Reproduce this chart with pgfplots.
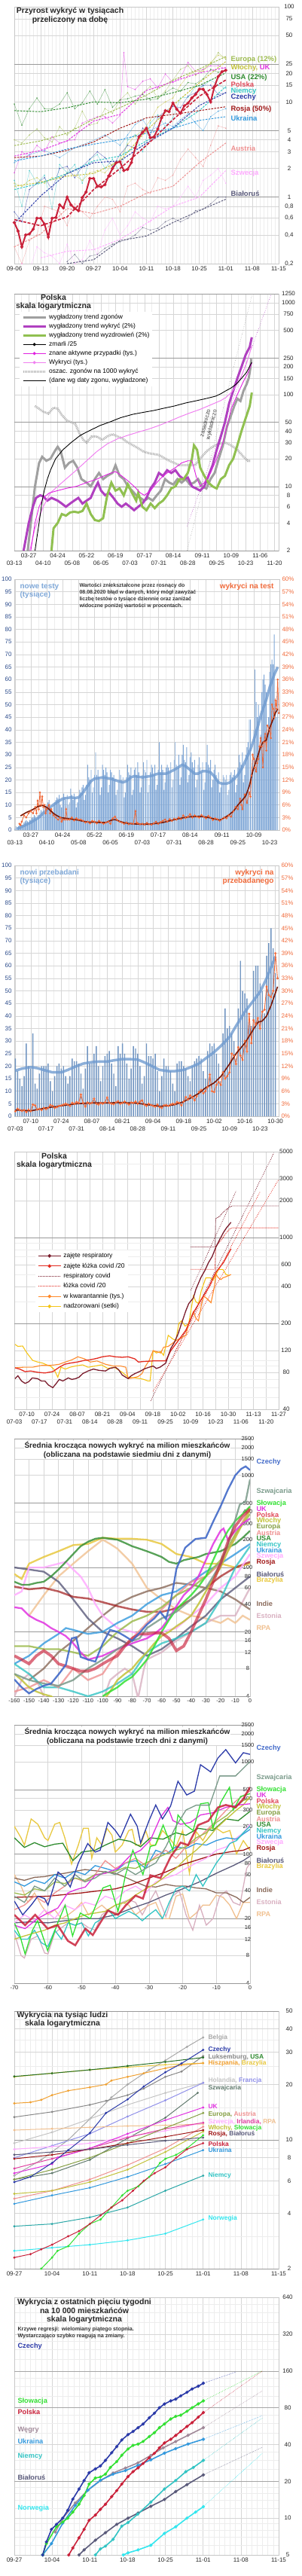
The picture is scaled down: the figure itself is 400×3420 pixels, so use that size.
\documentclass[border=0pt]{standalone}
\usepackage{pgfplots}
\pgfplotsset{compat=1.18}
\usepackage{fontspec}
\setmainfont{Liberation Sans}
\definecolor{cEur}{HTML}{9DBB4F}
\definecolor{cIta}{HTML}{C2C23A}
\definecolor{cUK}{HTML}{E033E0}
\definecolor{cUSA}{HTML}{2E8B2E}
\definecolor{cPol}{HTML}{C9213A}
\definecolor{cPolL}{HTML}{E04A5A}
\definecolor{cGer}{HTML}{33C4C4}
\definecolor{cCze}{HTML}{2B3AA8}
\definecolor{cCze6}{HTML}{4169C8}
\definecolor{cRus}{HTML}{A01818}
\definecolor{cUkr}{HTML}{3399DD}
\definecolor{cAut}{HTML}{EE9090}
\definecolor{cSwe}{HTML}{FFAAFF}
\definecolor{cBlr}{HTML}{5A5A7A}
\definecolor{cSvk}{HTML}{33E033}
\definecolor{cSui}{HTML}{7A9A8A}
\definecolor{cBra}{HTML}{E8C840}
\definecolor{cInd}{HTML}{8A6A5A}
\definecolor{cEst}{HTML}{D8B0C0}
\definecolor{cRSA}{HTML}{F0C090}
\definecolor{cBel}{HTML}{A8A8A8}
\definecolor{cLux}{HTML}{888888}
\definecolor{cEsp}{HTML}{F0A030}
\definecolor{cNed}{HTML}{C4C4C4}
\definecolor{cFra}{HTML}{9090E8}
\definecolor{cIrl}{HTML}{E040A0}
\definecolor{cNor}{HTML}{33E6EE}
\definecolor{cHun}{HTML}{A08898}
\definecolor{cBar}{HTML}{7EA6D6}
\definecolor{cTrend}{HTML}{6F9BD0}
\definecolor{cTxtB}{HTML}{7FA8D8}
\definecolor{cOr}{HTML}{F06A3A}
\definecolor{cDk}{HTML}{7A1A08}
\definecolor{cAxL}{HTML}{2A4A8A}
\definecolor{cResp}{HTML}{7A1C2C}
\definecolor{cBed}{HTML}{E32A1F}
\definecolor{cQua}{HTML}{FF8A2A}
\definecolor{cSup}{HTML}{F5C518}
\definecolor{cGr}{HTML}{A0A0A0}
\definecolor{cPur}{HTML}{B040C0}
\definecolor{cGrn}{HTML}{90C050}
\definecolor{cMag}{HTML}{E020E0}
\definecolor{cPink}{HTML}{F080F0}
\newcommand{\tl}[1]{#1\\\strut}
\newcommand{\bl}[1]{\strut\\#1}
\newcommand{\tf}{\fontsize{10.5}{11.5}\selectfont\bfseries}
\newcommand{\lf}{\fontsize{9.5}{10}\selectfont\bfseries}
\newcommand{\cf}{\fontsize{9.2}{9.2}\selectfont\bfseries}
\newcommand{\ef}{\fontsize{8.5}{8.5}\selectfont\bfseries}
\pgfplotsset{
 panel/.style={scale only axis, anchor=south west, clip=true,
   axis line style={draw=black!22},
   tick style={draw=none},
   tick label style={font=\fontsize{8}{9.5}\selectfont, text=black!85},
   major grid style={draw=black!16, line width=0.5pt},
   minor grid style={draw=black!7, line width=0.4pt},
   /pgf/number format/assume math mode=true,
   xticklabel style={align=center}},
 tdash/.style={dash pattern=on 2.5pt off 1.5pt, line width=1pt},
 daily/.style={line width=0.5pt, opacity=0.55, mark=*, mark size=0.6pt},
 leg/.style={legend cell align=left,
   legend image code/.code={\draw[mark repeat=2,mark phase=2,##1] plot coordinates {(0pt,0pt) (15pt,0pt) (30pt,0pt)};}},
}
\begin{document}
\begin{tikzpicture}
\useasboundingbox (0pt,0pt) rectangle (400pt,-3420pt);

%================ PANEL 1 =================
\begin{axis}[panel, at={(19pt,-350pt)}, width=351pt, height=341pt,
 xmin=0, xmax=70, ymode=log, ymin=0.2, ymax=100,
 xtick={0,7,...,70}, xticklabels={09-06,09-13,09-20,09-27,10-04,10-11,10-18,10-25,11-01,11-08,11-15},
 minor x tick num=6, xmajorgrids, xminorgrids,
 ytick={0.2,0.4,0.6,0.8,1,2,3,4,5,10,15,20,25,50,75,100},
 yticklabels={{0,2},{0,4},{0,6},{0,8},1,2,3,4,5,10,15,20,25,50,75,100},
 ymajorgrids, yticklabel pos=right, yticklabel style={anchor=center, xshift=14pt},
 extra y ticks={1,5,25}, extra y tick labels={}, extra y tick style={grid=major, major grid style={draw=black!40}},
]
\addplot[cEur, daily] coordinates {(0,4)(2,3.7)(4,4.5)(6,5.2)(8,4.2)(10,3.8)(12,5.5)(14,4.5)(16,5.3)(18,8.0)(20,5.7)(22,6.0)(24,8.5)(26,7.6)(28,10.5)(30,12.5)(32,9.5)(34,12.5)(36,14.5)(38,11)(40,13)(42,17)(44,22)(46,24)(48,19)(50,22)(52,25)(54,33)(56,28)};
\addplot[cUK, daily] coordinates {(0,1.8)(2,3.0)(4,2.7)(6,3.5)(8,3.0)(10,4.3)(12,3.7)(14,3.9)(16,4.0)(18,6.0)(20,6.5)(22,7.0)(24,7.0)(26,6.0)(28,7.2)(29,33)(30,14.5)(32,13.5)(34,16.5)(36,17.5)(38,14)(40,19.7)(42,16)(44,18)(46,26)(48,21)(50,22)(52,24)(54,24)(56,22)};
\addplot[cUSA, daily] coordinates {(0,9.5)(2,5.7)(4,8.5)(6,11)(8,8.5)(10,8.5)(12,9.5)(14,12.5)(16,8.5)(18,9.8)(20,13)(22,9.5)(24,13.5)(26,8.8)(28,10.5)(30,10.8)(32,11.5)(34,12)(36,10.5)(38,10.8)(40,12.5)(42,14)(44,13)(46,16)(48,15.5)(50,17.5)(52,22)(54,20.5)(56,21)};
\addplot[cIta, daily] coordinates {(0,1.4)(2,1.3)(4,1.5)(6,1.6)(8,1.4)(10,1.6)(12,1.6)(14,1.8)(16,1.7)(18,1.5)(20,1.8)(22,1.9)(24,1.8)(26,2.2)(28,2.5)(30,3.6)(32,4.4)(34,5.0)(36,6.4)(38,8.8)(40,10)(42,11)(44,15)(46,19)(48,21)(50,21)(52,26)(54,31)(56,29)};
\addplot[cGer, daily] coordinates {(0,1.5)(2,0.8)(4,1.9)(6,1.4)(8,1.7)(10,0.75)(12,2.2)(14,1.8)(16,2.2)(18,1.4)(20,2.5)(22,2.8)(24,2.0)(26,2.5)(28,1.8)(30,4.0)(32,4.5)(34,3.0)(36,6.0)(38,7.3)(40,5.5)(42,6.8)(44,11)(46,11.2)(48,14.5)(50,14.7)(52,17)(54,15)(56,14)};
\addplot[cCze, daily] coordinates {(0,0.7)(2,0.55)(4,1.2)(6,1.4)(8,1.6)(10,1.2)(12,2.0)(14,2.1)(16,1.6)(18,2.1)(20,2.5)(22,3.0)(24,2.6)(26,2.1)(28,2.8)(30,3.5)(32,3.3)(34,5.3)(36,4.5)(38,6.9)(40,8.0)(42,9.0)(44,8.7)(46,11.5)(48,12.5)(50,15)(52,15)(54,12)(56,12.5)};
\addplot[cUkr, daily] coordinates {(0,2.3)(4,2.8)(8,3.1)(12,2.6)(16,3.3)(20,3.8)(24,4.5)(28,3.5)(30,4.5)(32,5.8)(34,6.5)(36,5.0)(38,5.5)(40,6.0)(42,5.5)(44,6.5)(46,7.5)(48,6.0)(50,5.0)(52,7.0)(54,8.0)(56,8.5)};
\addplot[cAut, daily] coordinates {(0,0.3)(2,0.2)(4,0.35)(6,0.4)(8,0.8)(10,0.75)(12,0.7)(14,0.5)(16,0.85)(18,0.7)(20,0.6)(22,0.8)(24,1.0)(26,0.95)(28,0.7)(30,1.3)(32,1.4)(34,1.2)(36,1.1)(38,1.6)(40,1.5)(42,1.7)(44,2.5)(46,3.2)(48,2.6)(50,2.1)(52,3.5)(54,5.6)(56,5.3)};
\addplot[cSwe, daily] coordinates {(0,0.15)(2,0.2)(4,0.17)(6,0.3)(8,0.26)(10,0.24)(12,0.2)(14,0.32)(16,0.2)(18,0.22)(20,0.35)(22,0.25)(24,0.45)(26,0.6)(28,0.4)(30,0.5)(32,0.7)(34,0.6)(36,0.55)(38,0.8)(40,0.75)(42,0.8)(44,1.0)(46,1.3)(48,1.0)(50,1.5)(52,1.7)(54,2.0)(56,1.4)};
\addplot[cBlr, daily] coordinates {(14,0.21)(16,0.25)(18,0.2)(20,0.24)(22,0.25)(24,0.29)(26,0.32)(28,0.34)(30,0.36)(32,0.4)(34,0.48)(36,0.45)(38,0.47)(40,0.55)(42,0.6)(44,0.55)(46,0.6)(48,0.72)(50,0.75)(52,0.85)(54,1.0)(56,1.0)};
\addplot[cEur, tdash] coordinates {(0,3.48)(7,3.9)(14,4.7)(21,6.6)(28,8.7)(35,11.8)(42,16.9)(49,22.2)(56,30)};
\addplot[cIta, tdash] coordinates {(0,1.3)(7,1.43)(14,1.66)(21,1.77)(28,2.4)(35,5)(42,9.2)(49,15.9)(56,26.6)};
\addplot[cUK, tdash] coordinates {(0,2.7)(7,3.1)(14,3.9)(21,6.3)(28,7.4)(35,13.2)(42,16.3)(49,20.2)(56,23)};
\addplot[cUSA, tdash] coordinates {(0,8.1)(7,7.9)(14,8.7)(21,10)(28,9.8)(35,10.7)(42,12.5)(49,14.9)(56,20.2)};
\addplot[cGer, tdash] coordinates {(0,1.2)(7,1.4)(14,1.77)(21,2.4)(28,2.7)(35,3.9)(42,5.3)(49,8.1)(56,14.5)};
\addplot[cCze, tdash] coordinates {(0,0.53)(7,1.03)(14,1.77)(21,2.3)(28,2.4)(35,3.7)(42,5.3)(49,9.2)(56,12.5)};
\addplot[cRus, tdash] coordinates {(0,2.6)(7,2.7)(14,3.1)(21,3.8)(28,5.3)(35,6.8)(42,7.4)(49,8.1)(56,8.9)};
\addplot[cUkr, tdash] coordinates {(0,2.4)(7,2.7)(14,3.2)(21,3.6)(28,4.0)(35,4.7)(42,5.3)(49,6.4)(56,7.0)};
\addplot[cAut, tdash] coordinates {(0,0.3)(7,0.41)(14,0.76)(21,0.67)(28,0.8)(35,1.1)(42,1.3)(49,2.3)(56,3.7)};
\addplot[cSwe, tdash] coordinates {(7,0.23)(14,0.27)(21,0.28)(28,0.36)(35,0.53)(42,0.8)(49,1.0)(56,1.9)};
\addplot[cBlr, tdash] coordinates {(14,0.2)(21,0.22)(28,0.35)(35,0.39)(42,0.54)(49,0.72)(56,0.95)};
\addplot[cPol, dash pattern=on 4pt off 2pt, line width=1.6pt] coordinates {(0,0.58)(7,0.5)(14,0.62)(21,1.2)(28,2.0)(35,3.5)(42,6.5)(49,11.5)(56,17)};
\addplot[cPol, line width=2pt, mark=*, mark size=0.9pt] table[row sep=crcr, header=false, x expr=\coordindex, y index=0] {0.54\\0.44\\0.30\\0.40\\0.41\\0.46\\0.6\\0.6\\0.52\\0.38\\0.6\\0.61\\0.83\\0.77\\1.0\\0.83\\0.76\\0.72\\0.99\\1.13\\1.57\\1.57\\1.3\\1.28\\1.35\\1.67\\2.0\\2.3\\2.35\\1.9\\1.96\\2.3\\3.27\\4.3\\4.8\\5.3\\4.2\\4.3\\5.2\\6.8\\8.1\\7.9\\9.75\\8.4\\7.6\\9.1\\9.7\\11.0\\12.0\\13.6\\13.6\\12.0\\10.0\\14.5\\18.5\\20.8\\21.5\\};
\end{axis}
\node[font=\tf, align=center, text=black!85] at (93pt,-20.5pt) {Przyrost wykryć w tysiącach\\przeliczony na dobę};
\node[anchor=west, font=\lf, text=cEur] at (303pt,-79pt) {Europa (12\%)};
\node[anchor=west, font=\lf] at (303pt,-90pt) {\textcolor{cIta}{Włochy,} \textcolor{cUK}{UK}};
\node[anchor=west, font=\lf, text=cUSA] at (303pt,-103pt) {USA (22\%)};
\node[anchor=west, font=\lf, text=cPolL] at (303pt,-112pt) {Polska};
\node[anchor=west, font=\lf, text=cGer] at (303pt,-121pt) {Niemcy};
\node[anchor=west, font=\lf, text=cCze] at (303pt,-129pt) {Czechy};
\node[anchor=west, font=\lf, text=cRus] at (303pt,-145pt) {Rosja (50\%)};
\node[anchor=west, font=\lf, text=cUkr] at (303pt,-157pt) {Ukraina};
\node[anchor=west, font=\lf, text=cAut] at (303pt,-197pt) {Austria};
\node[anchor=west, font=\lf, text=cSwe] at (303pt,-230pt) {Szwecja};
\node[anchor=west, font=\lf, text=cBlr] at (303pt,-257pt) {Białoruś};

%================ PANEL 2 =================
\begin{axis}[panel, leg, at={(19pt,-731pt)}, width=351pt, height=341pt,
 xmin=0, xmax=256, ymode=log, ymin=2, ymax=1250,
 xtick={0,14,...,252},
 xticklabels={{\bl{03-13}},{\tl{03-27}},{\bl{04-10}},{\tl{04-24}},{\bl{05-08}},{\tl{05-22}},{\bl{06-05}},{\tl{06-19}},{\bl{07-03}},{\tl{07-17}},{\bl{07-31}},{\tl{08-14}},{\bl{08-28}},{\tl{09-11}},{\bl{09-25}},{\tl{10-09}},{\bl{10-23}},{\tl{11-06}},{\bl{11-20}}},
 minor x tick num=1, xmajorgrids, xminorgrids,
 ytick={2,4,6,8,10,20,30,40,50,100,150,200,250,500,750,1000,1250},
 yticklabels={2,4,6,8,10,20,30,40,50,100,150,200,250,500,750,1000,1250},
 ymajorgrids, yticklabel pos=right, yticklabel style={anchor=center, xshift=13pt},
 extra y ticks={2,10,50,250,1250}, extra y tick labels={}, extra y tick style={grid=major, major grid style={draw=black!40}},
 legend style={at={(0.02,0.93)}, anchor=north west, draw=none, fill=white, font=\fontsize{8.5}{9}\selectfont, nodes={inner sep=1pt, text height=6.5pt, text depth=2pt}, row sep=1.5pt, /tikz/every odd column/.append style={column sep=2pt}},
]
\addlegendimage{cGr, line width=3pt}\addlegendentry{wygładzony trend zgonów}
\addlegendimage{cPur, line width=3pt}\addlegendentry{wygładzony trend wykryć (2\%)}
\addlegendimage{cGrn, line width=3pt}\addlegendentry{wygładzony trend wyzdrowień (2\%)}
\addlegendimage{black, line width=0.8pt, mark=*, mark size=1.6pt}\addlegendentry{zmarli /25}
\addlegendimage{cMag, line width=0.8pt, mark=*, mark size=1.6pt}\addlegendentry{znane aktywne przypadki (tys.)}
\addlegendimage{cPink, line width=0.8pt, mark=*, mark size=1.6pt}\addlegendentry{Wykryci (tys.)}
\addlegendimage{black!30, line width=3pt, dash pattern=on 1pt off 1pt}\addlegendentry{oszac. zgonów na 1000 wykryć}
\addlegendimage{draw=none}\addlegendentry{(dane wg daty zgonu, wygładzone)}
\addplot[forget plot, black!30, line width=3pt, dash pattern=on 1pt off 1pt] coordinates {(20,75)(24,70)(28,65)(33,62)(38,72)(42,70)(46,60)(51,52)(55,50)(59,48)(63,38)(67,32)(70,30)(75,35)(80,35)(85,32)(90,35)(95,37)(100,35)(105,33)(110,30)(115,28)(120,26)(125,24)(130,23)(140,22)(150,19)(160,17)(168,17)(175,17)(180,20)(186,24)(192,27)(198,29)(204,30)(210,28)(216,25)(222,21)(226,19)(229,19)};
\addplot[forget plot, cGr, line width=0.6pt, dotted] coordinates {(167.3,2)(230.5,1250)};
\addplot[forget plot, cPur, line width=0.6pt, dotted] coordinates {(167.3,3.7)(248.7,1230)};
\addplot[forget plot, cGr, line width=3pt] coordinates {(13,2)(16,4)(20,10)(24,18)(27,21)(31,19)(35,20)(39,24)(42,27)(45,24)(49,16)(53,18)(57,19)(61,16)(65,12)(70,11)(74,10)(78,12)(82,14)(86,12)(90,13)(95,14)(98,17)(102,13)(106,12)(110,10)(114,9)(118,8)(122,7.5)(126,7)(130,7.5)(134,7)(138,8)(142,9)(146,12)(150,11)(154,10.5)(158,12)(162,11)(166,12)(170,10.5)(174,11)(178,12)(182,10)(186,9.5)(190,12)(194,14)(198,20)(202,28)(206,45)(210,60)(213,75)(216,90)(219,85)(222,110)(225,130)(227,150)(228.5,190)(229.5,245)};
\addplot[forget plot, cPur, line width=3pt] coordinates {(9,2)(14,4)(18,6)(21,7.5)(25,8)(28,7.8)(32,7)(36,7.5)(42,7)(46,6.5)(50,6)(54,6.5)(58,7)(62,7.5)(66,6.5)(70,7)(74,7.5)(78,9.5)(81,11)(84,9)(88,8)(92,8.5)(96,7.5)(100,6.5)(104,6)(108,6.5)(112,6)(116,5.5)(120,6)(124,6.5)(128,7.5)(132,9.5)(136,11)(140,14)(144,13)(148,15)(152,14)(156,15)(160,13)(164,12)(168,12.5)(172,10)(176,9.5)(180,9)(184,10)(188,13)(192,17)(196,25)(200,35)(204,50)(208,80)(212,110)(216,150)(220,200)(224,270)(228,330)(230,420)};
\addplot[forget plot, cGrn, line width=3pt] coordinates {(36,2)(38,3.5)(42,4)(46,5)(50,4.8)(54,5.2)(58,5.3)(62,5.2)(66,5.4)(70,6.5)(74,5)(78,4.3)(82,4.2)(86,4.5)(90,8)(94,11)(98,9)(102,9.5)(106,8)(110,10.5)(114,8.5)(118,7)(120,8.5)(124,6)(128,5.5)(132,6.5)(136,5.8)(140,6.5)(144,7)(148,8)(152,9.5)(156,10)(160,12)(164,12)(168,14)(172,20)(174,28)(177,25)(180,16)(184,13)(188,11)(192,10)(196,9.5)(200,12)(204,13)(208,17)(212,20)(216,28)(220,40)(224,55)(228,75)(230,105)};
\addplot[forget plot, cPink, line width=1pt] coordinates {(15,2)(20,3.5)(28,6)(35,8.5)(42,10)(50,12)(60,15)(70,19)(80,24)(90,29)(100,33)(110,36)(120,39)(130,42)(140,46)(150,51)(160,57)(170,63)(180,69)(190,77)(200,86)(205,93)(210,105)(215,125)(220,160)(225,220)(230,340)};
\addplot[forget plot, cMag, line width=0.9pt] coordinates {(16,2)(20,4)(24,6)(28,7.5)(34,8.5)(42,9)(50,9.5)(60,10)(70,11)(80,12)(90,13.5)(98,14.5)(104,13)(110,11.5)(116,10)(122,8.5)(126,8)(132,9)(138,11)(144,13)(150,14.5)(156,16)(162,18)(168,19)(172,19)(176,13)(180,10)(184,11)(190,14)(196,20)(202,30)(206,45)(210,70)(216,100)(222,140)(226,170)(230,220)};
\addplot[forget plot, black, line width=0.9pt] coordinates {(20,2)(24,4)(27,7)(29,9)(32,12)(35,15)(40,20)(47,25)(55,30)(64,36)(72,40)(83,46)(92,50)(103,56)(115,61)(125,64)(135,67)(145,71)(155,75)(166,81)(175,85)(185,90)(195,96)(200,102)(205,110)(210,118)(215,130)(220,150)(225,175)(230,225)};
\end{axis}
\node[font=\tf, align=center, text=black!85] at (71pt,-401.5pt) {Polska\\skala logarytmiczna};
\node[font=\fontsize{7.5}{8.5}\selectfont, align=center, rotate=75.7, text=black!75] at (277pt,-563pt) {zasadniczo\\wykładniczo};

%================ PANEL 3 =================
\begin{axis}[panel, at={(19pt,-1102pt)}, width=352pt, height=333pt,
 xmin=-0.5, xmax=232.5, ymin=0, ymax=100,
 xtick={0,14,...,224},
 xticklabels={{\bl{03-13}},{\tl{03-27}},{\bl{04-10}},{\tl{04-24}},{\bl{05-08}},{\tl{05-22}},{\bl{06-05}},{\tl{06-19}},{\bl{07-03}},{\tl{07-17}},{\bl{07-31}},{\tl{08-14}},{\bl{08-28}},{\tl{09-11}},{\bl{09-25}},{\tl{10-09}},{\bl{10-23}}},
 minor x tick num=1, xmajorgrids, xminorgrids,
 ytick={0,5,...,100}, ymajorgrids,
 yticklabel style={text=cAxL},
]
\addplot[ybar, bar width=0.62, fill=cBar, draw=none] table[row sep=crcr, header=false, x expr=\coordindex, y index=0] {0.5\\1.5\\1\\1.5\\2\\1.5\\2\\2\\3\\3.5\\4\\3.5\\3\\4\\4\\5\\5\\6\\5.5\\4.5\\6\\6\\7\\8\\7.5\\9\\7\\9\\10\\11\\12\\9\\8\\7\\10\\11\\12\\13\\12.5\\14\\10\\9\\12\\14.5\\13\\12\\14\\10\\11\\16.5\\14\\12\\14.5\\13\\9\\11\\13\\16\\15\\17\\18\\12\\14\\18\\26\\21\\20\\24\\15\\17\\22\\31\\22\\24\\21\\14\\17\\26\\24\\22\\25\\23\\15\\18\\24\\23\\21\\22\\20\\14\\16\\19\\24\\22\\20\\21\\13\\15\\21\\26\\23\\22\\25\\14\\16\\24\\25\\22\\27\\23\\15\\17\\22\\27\\24\\23\\28\\15\\18\\23\\26\\25\\22\\26\\16\\18\\24\\35\\23\\26\\24\\16\\19\\25\\26\\25\\23\\27\\17\\20\\28\\35\\26\\25\\30\\18\\21\\30\\34\\28\\27\\33\\19\\22\\29\\31\\27\\25\\28\\17\\20\\26\\29\\25\\23\\27\\16\\19\\27\\34\\26\\25\\28\\17\\20\\24\\26\\22\\20\\23\\15\\17\\19\\22\\21\\20\\22\\14\\16\\22\\23\\21\\22\\24\\15\\18\\25\\30\\27\\26\\31\\19\\22\\30\\33\\35\\44\\44\\24\\28\\40\\64\\51\\45\\50\\32\\38\\55\\60\\62\\58\\55\\38\\45\\63\\66\\68\\66\\78\\50\\45\\60\\};
\addplot[cTrend, line width=3.5pt, opacity=0.8] coordinates {(2,0.5)(7,1.5)(14,3)(21,5)(28,8)(35,10.5)(42,12.5)(49,13)(53,12.8)(56,13)(60,15)(63,17)(67,19.5)(70,20.5)(77,21)(84,20.5)(91,19.5)(95,19)(98,19.5)(102,21)(105,21.5)(112,21)(119,21.5)(126,22.5)(133,22.5)(140,24)(147,26)(150,25.5)(154,24)(158,22.5)(161,22.5)(165,23.5)(168,23.5)(172,23)(175,21.5)(179,19)(182,18.5)(186,18.5)(189,19)(193,20.5)(196,22)(200,25)(203,28)(207,32)(210,36)(214,42)(217,47)(221,52)(224,57)(228,62)(231,65)};
\end{axis}
\begin{axis}[panel, at={(19pt,-1102pt)}, width=352pt, height=333pt,
 xmin=-0.5, xmax=232.5, ymin=0, ymax=60, axis y line*=right, axis x line=none,
 ytick={0,3,...,60}, yticklabel={\pgfmathprintnumber{\tick}\%}, yticklabel style={text=cOr},
]
\addplot[cOr, line width=0.8pt, mark=*, mark size=0.9pt] coordinates {(4,1.5)(5,1.2)(6,2)(8,3.5)(10,3)(12,4)(14,4.5)(16,4)(18,5.5)(19,4)(20,7)(21,5)(22,9)(23,6)(24,8)(25,5.5)(26,6)(27,4)(28,5)(30,6)(31,4)(32,5)(34,3.5)(36,3)(38,2.5)(40,3)(41,2)(42,2.5)(44,2.5)(45,5)(46,2.5)(48,2.5)(50,3)(52,2.3)(54,2.8)(56,2.5)(58,2.5)(60,2.2)(62,1.8)(64,2)(66,1.6)(68,2.2)(70,2)(72,1.6)(74,2.2)(76,1.8)(78,1.5)(80,1.8)(82,2)(84,1.5)(86,2.8)(88,3.2)(90,2.4)(92,2)(94,1.8)(96,1.5)(98,1.8)(100,1.4)(102,1.6)(104,1.5)(106,4.5)(107,1.8)(108,1.6)(110,1.4)(112,1.5)(114,1.3)(116,1.7)(118,1.4)(120,1.3)(122,1.6)(124,2)(126,1.5)(128,1.9)(130,2.2)(132,2.5)(134,2.0)(136,2.6)(138,2.2)(140,2.7)(142,2.5)(144,3.0)(146,2.6)(148,3.5)(150,2.9)(152,3.2)(154,3.8)(156,3.0)(158,3.5)(160,3.2)(162,3.0)(164,3.6)(166,3.2)(168,2.8)(170,3.4)(172,3.0)(174,2.4)(176,2.8)(178,2.6)(180,2.2)(182,2.6)(184,3.0)(186,2.8)(188,3.5)(190,3.2)(192,4.5)(194,5.5)(196,5)(198,7.5)(199,6)(200,5)(202,8.5)(204,6.5)(206,9)(207,8)(208,13)(209,18)(210,17)(211,15)(212,14)(213,16)(214,17)(215,20)(216,22)(217,20)(218,15)(219,21)(220,23)(221,19)(222,25)(224,24)(225,22)(226,30)(227,29)(228,27)(229,31)(230,29)(231,36)(232,28)};
\addplot[cDk, line width=1.6pt] coordinates {(5,3.4)(10,4.2)(15,4.8)(20,5.6)(24,5.9)(27,5.6)(30,5)(33,4.2)(36,3.6)(40,3)(45,2.8)(50,2.6)(55,2.4)(60,2.1)(65,1.9)(70,1.9)(75,1.8)(80,1.8)(85,2.4)(88,2.5)(92,2.1)(97,1.7)(102,1.5)(110,1.4)(118,1.4)(125,1.6)(130,1.8)(136,2.2)(142,2.6)(149,3.0)(155,3.2)(162,3.3)(168,3.1)(172,2.9)(176,2.6)(180,2.4)(184,2.9)(189,3.8)(193,4.8)(196,6)(200,7.2)(203,8.2)(206,10.5)(209,14)(212,16.5)(215.5,19.5)(218,21)(221,21.5)(224,24.5)(227,26.5)(229,28)(231,29)};
\end{axis}
\node[anchor=north west, font=\fontsize{10}{11}\selectfont\bfseries, text=cTxtB, align=left] at (23pt,-771pt) {nowe testy\\(tysiące)};
\node[anchor=north east, font=\fontsize{10}{11}\selectfont\bfseries, text=cOr] at (367pt,-771pt) {wykryci na test};
\node[anchor=north west, font=\fontsize{7}{9}\selectfont\bfseries, text=black!80, align=left] at (102pt,-771pt) {Wartości zniekształcone przez rosnący do\\08.08.2020 błąd w danych, który mógł zawyżać\\liczbę testów o tysiące dziennie oraz zaniżać\\widoczne poniżej wartości w procentach.};

%================ PANEL 4 =================
\begin{axis}[panel, at={(19pt,-1482pt)}, width=351pt, height=333pt,
 xmin=-0.5, xmax=120.5, ymin=0, ymax=100,
 xtick={0,7,...,119},
 xticklabels={{\bl{07-03}},{\tl{07-10}},{\bl{07-17}},{\tl{07-24}},{\bl{07-31}},{\tl{08-07}},{\bl{08-14}},{\tl{08-21}},{\bl{08-28}},{\tl{09-04}},{\bl{09-11}},{\tl{09-18}},{\bl{09-25}},{\tl{10-02}},{\bl{10-09}},{\tl{10-16}},{\bl{10-23}},{\tl{10-30}}},
 minor x tick num=1, xmajorgrids, xminorgrids,
 ytick={0,5,...,100}, ymajorgrids,
 yticklabel style={text=cAxL},
]
\addplot[ybar, bar width=0.5, fill=cBar!90!black, draw=none] table[row sep=crcr, header=false, x expr=\coordindex, y index=0] {23\\18\\15\\12\\16\\29\\20\\19\\33\\13\\11\\17\\20\\20\\20\\21\\14\\10\\16\\20\\21\\19\\20\\16\\13\\16\\23\\22\\22\\21\\17\\11\\19\\28\\21\\21\\25\\28\\20\\14\\20\\24\\25\\26\\21\\17\\12\\28\\25\\29\\25\\21\\15\\19\\28\\27\\25\\20\\13\\16\\29\\24\\24\\23\\25\\18\\10\\16\\23\\20\\20\\18\\13\\10\\21\\22\\22\\20\\19\\16\\14\\20\\22\\23\\24\\23\\18\\15\\26\\29\\28\\29\\25\\21\\14\\33\\43\\35\\36\\33\\30\\23\\43\\62\\50\\49\\47\\38\\36\\58\\60\\60\\53\\50\\41\\64\\69\\75\\67\\57\\};
\addplot[cTrend, line width=3.5pt, opacity=0.8] coordinates {(0,18.2)(3,19)(7,19.6)(10,19.2)(14,18.2)(17,17.5)(21,17.5)(24,18.5)(28,20)(31,21)(35,21.6)(38,21.8)(42,21.8)(45,22.3)(49,22.8)(52,22.8)(56,22.6)(59,21.5)(63,19.8)(66,18.5)(70,18)(73,18)(77,18.5)(80,19.5)(84,21)(87,23)(91,25.6)(94,28)(98,31.6)(101,36)(105,41.6)(108,45)(112,49.6)(115,55)(119,63.7)};
\end{axis}
\begin{axis}[panel, at={(19pt,-1482pt)}, width=351pt, height=333pt,
 xmin=-0.5, xmax=120.5, ymin=0, ymax=60, axis y line*=right, axis x line=none,
 ytick={0,3,...,60}, yticklabel={\pgfmathprintnumber{\tick}\%}, yticklabel style={text=cOr},
]
\addplot[cOr, line width=0.9pt, mark=*, mark size=1pt] coordinates {(0,1.2)(1,1.8)(2,1.5)(3,1.3)(4,1.5)(5,1.0)(6,1.6)(7,1.2)(8,2.8)(9,2.6)(10,1.6)(11,1.8)(12,1.5)(13,2.0)(14,1.7)(15,2.0)(16,2.7)(17,2.5)(18,2.0)(19,2.2)(20,2.5)(21,2.6)(22,2.8)(23,3.0)(24,2.8)(25,2.5)(26,3.2)(27,3.0)(28,3.4)(29,3.2)(30,5.2)(31,3.2)(32,2.3)(33,3.3)(34,3.0)(35,3.2)(36,4.2)(37,3.0)(38,2.8)(39,3.2)(40,3.0)(41,3.3)(42,4.5)(43,3.2)(44,3.0)(45,2.9)(46,3.3)(47,3.6)(48,3.0)(49,3.2)(50,3.5)(51,3.1)(52,2.8)(53,3.3)(54,3.2)(55,3.5)(56,3.0)(57,3.5)(58,3.8)(59,2.8)(60,2.5)(61,3.0)(62,2.7)(63,2.5)(64,2.3)(65,2.8)(66,2.2)(67,2.0)(68,2.6)(69,2.7)(70,2.5)(71,2.8)(72,3.0)(73,2.9)(74,3.4)(75,3.2)(76,2.6)(77,3.5)(78,4.6)(79,4.0)(80,5.0)(81,4.5)(82,3.8)(83,4.8)(84,5.8)(85,6.3)(86,5.5)(87,6.0)(88,7.0)(89,10.0)(90,6.0)(91,5.8)(92,7.5)(93,8.2)(94,7.5)(95,10.5)(96,9.0)(97,9.6)(98,10.5)(99,15)(100,14.5)(101,12.5)(102,16.5)(103,14.5)(104,13.5)(105,18)(106,15.5)(107,24.5)(108,17.5)(109,23)(110,22)(111,23.5)(112,21)(113,25)(114,25.5)(115,31)(116,29)(117,28.5)(118,30)(119,39)(120,33)};
\addplot[cDk, line width=1.6pt] coordinates {(0,1.5)(7,1.3)(14,2.0)(21,2.5)(28,3.0)(35,3.2)(42,3.2)(49,3.3)(56,3.1)(60,2.8)(63,2.6)(66,2.4)(70,2.5)(73,2.8)(77,3.5)(80,4.3)(84,5.5)(87,6.8)(91,8.0)(94,9.5)(98,12.5)(101,15)(105,17.5)(108,20)(111,22.5)(113,22.8)(115,24)(117,26.5)(119,29.5)(120,31)};
\end{axis}
\node[anchor=north west, font=\fontsize{10}{11}\selectfont\bfseries, text=cTxtB, align=left] at (23pt,-1151pt) {nowi przebadani\\(tysiące)};
\node[anchor=north east, font=\fontsize{10}{11}\selectfont\bfseries, text=cOr, align=right] at (367pt,-1151pt) {wykryci na\\przebadanego};

%================ PANEL 5 =================
\begin{axis}[panel, leg, at={(19pt,-1871pt)}, width=351pt, height=342pt,
 xmin=0, xmax=147, ymode=log, ymin=40, ymax=5000,
 xtick={0,7,...,147},
 xticklabels={{\bl{07-03}},{\tl{07-10}},{\bl{07-17}},{\tl{07-24}},{\bl{07-31}},{\tl{08-07}},{\bl{08-14}},{\tl{08-21}},{\bl{08-28}},{\tl{09-04}},{\bl{09-11}},{\tl{09-18}},{\bl{09-25}},{\tl{10-02}},{\bl{10-09}},{\tl{10-16}},{\bl{10-23}},{\tl{10-30}},{\bl{11-06}},{\tl{11-13}},{\bl{11-20}},{\tl{11-27}}},
 xmajorgrids,
 ytick={40,80,120,200,400,600,1000,2000,3000,5000},
 yticklabels={40,80,120,200,400,600,1000,2000,3000,5000},
 minor ytick={50,60,70,90,100,300,500,700,800,900,4000}, ymajorgrids, yminorgrids,
 yticklabel pos=right, yticklabel style={anchor=center, xshift=10pt},
 extra y ticks={200,1000}, extra y tick labels={}, extra y tick style={grid=major, major grid style={draw=black!40}},
 legend style={at={(0.08,0.617)}, anchor=north west, draw=none, fill=white, font=\fontsize{8.5}{9}\selectfont, nodes={inner sep=1pt, text height=6.5pt, text depth=2pt}, row sep=2.9pt, /tikz/every odd column/.append style={column sep=2pt}},
]
\addlegendimage{cResp, line width=1pt, mark=*, mark size=1.8pt}\addlegendentry{zajęte respiratory}
\addlegendimage{cBed, line width=1pt, mark=*, mark size=1.8pt}\addlegendentry{zajęte łóżka covid /20}
\addlegendimage{cResp, line width=1pt, dash pattern=on 1pt off 1pt}\addlegendentry{respiratory covid}
\addlegendimage{cBed, line width=1pt, dash pattern=on 1pt off 1pt}\addlegendentry{łóżka covid /20}
\addlegendimage{cQua, line width=1pt, mark=*, mark size=1.8pt}\addlegendentry{w kwarantannie (tys.)}
\addlegendimage{cSup, line width=1pt, mark=*, mark size=1.8pt}\addlegendentry{nadzorowani (setki)}
\addplot[forget plot, cResp, line width=0.7pt, dash pattern=on 1pt off 1.5pt] coordinates {(75.8,46.7)(144.3,4870)};
\addplot[forget plot, cResp, line width=0.7pt, dash pattern=on 1pt off 1.5pt] coordinates {(98.2,372)(123.4,2400)};
\addplot[forget plot, cBed, line width=0.7pt, dash pattern=on 1pt off 1.5pt] coordinates {(77.2,56)(147,2970)};
\addplot[forget plot, cBed, line width=0.7pt, dash pattern=on 1pt off 1.5pt] coordinates {(89.8,120)(136.6,2345)};
\addplot[forget plot, cResp, line width=0.9pt, dash pattern=on 1pt off 1pt] coordinates {(98.2,839)(111.6,839)(112,1430)(114,1480)(116,1600)(118,1700)(120,1780)(121.5,1811)(147,1811)};
\addplot[forget plot, cBed, line width=0.9pt, dash pattern=on 1pt off 1pt] coordinates {(98.2,551)(111.6,551)(112,850)(115,950)(118,1100)(120,1180)(121.5,1200)(147,1200)};
\addplot[forget plot, cSup, line width=1.1pt] coordinates {(0.4,135)(2,130)(4.6,131)(7,115)(10.2,100)(13,97)(15.8,95)(18,92)(20,90)(22,85)(24.2,73)(26,88)(28.4,85)(31,88)(34,90)(38,92)(41,88)(45,90)(48.5,92)(52,86)(55.5,88)(60,80)(63.3,73)(67,72)(70.3,71)(72,70)(74.4,68)(75.5,68)(77.2,120)(79,115)(81.4,118)(83,110)(85.6,160)(88,150)(89.8,145)(91.5,200)(93,210)(95,190)(97,200)(99.6,335)(101,300)(102.4,290)(104,370)(106.5,470)(109,470)(110.5,450)(113.5,550)(116,550)(117.7,500)(119.8,490)};
\addplot[forget plot, cQua, line width=1.1pt] coordinates {(0.4,87)(5,88)(10.2,88)(15,91)(20,91)(25,93)(28.4,97)(32,101)(35.3,107)(39,103)(42.3,97)(46,99)(50.7,93)(55,90)(59.1,90)(62,88)(63.3,71)(66,72)(68.9,74)(71,78)(73,90)(75,100)(77.2,120)(79,118)(81.4,115)(83,128)(85.6,130)(88,138)(89.8,145)(92,150)(95.4,160)(97,200)(99.6,250)(101,220)(102.4,210)(104,280)(105.2,335)(107,320)(109.4,295)(111,380)(112.2,500)(113.5,470)(114.9,455)(116,470)(117.7,480)(120.5,500)};
\addplot[forget plot, cBed, line width=1.3pt] coordinates {(0.4,87)(3,85)(6,81)(9,82)(13,80)(17,79)(21.4,81)(25,88)(28,93)(31,95)(35,97)(39,100)(42,101)(46,104)(49,107)(53,109)(56,107)(60,106)(63.3,107)(67,103)(69,97)(72,98)(77.2,99)(80,99)(84.2,99)(87,120)(91.2,145)(95.4,176)(99.6,245)(103.8,310)(108,392)(112,520)(116.3,626)(120.5,810)};
\addplot[forget plot, cResp, line width=1.3pt] coordinates {(0.4,71)(2,75)(4,68)(6,65)(8,67)(10,72)(13,71)(15,68)(17,68)(19,63)(21.4,60)(23,64)(25,70)(27,68)(30,72)(32,70)(34,71)(36,73)(38,78)(41,82)(44,85)(47,83)(50.7,82)(53,86)(56.3,88)(58,84)(60,76)(63.3,71)(65,75)(67,78)(70.3,82)(72,85)(75,88)(77.2,90)(79,86)(81,88)(84.2,95)(87,125)(89,140)(91.2,166)(93,200)(95.4,254)(97,290)(99.6,323)(101,380)(103.8,474)(106,540)(108,626)(110,700)(112,828)(114,950)(116.3,1100)(118,1200)(120.5,1330)};
\end{axis}
\node[font=\tf, align=center, text=black!85] at (72pt,-1541.5pt) {Polska\\skala logarytmiczna};

%================ PANEL 6 =================
\begin{axis}[panel, at={(19pt,-2252pt)}, width=313pt, height=342pt,
 xmin=-160, xmax=0, ymode=log, ymin=4, ymax=2500,
 xtick={-160,-150,...,0}, xticklabels={-160,-150,-140,-130,-120,-110,-100,-90,-80,-70,-60,-50,-40,-30,-20,-10,0},
 xmajorgrids, xticklabel style={font=\fontsize{7.5}{8}\selectfont},
 ytick={4,8,12,16,20,40,60,80,100,200,300,400,500,1000,1500,2000,2500},
 yticklabels={4,8,12,16,20,40,60,80,100,200,300,400,500,1000,1500,2000,2500},
 ymajorgrids, yticklabel pos=right, yticklabel style={anchor=center, xshift=-3pt, font=\fontsize{7.5}{8}\selectfont},
 extra y ticks={4,20,100,500,2500}, extra y tick labels={}, extra y tick style={grid=major, major grid style={draw=black!40}},
]
\addplot[cRSA, line width=2.3pt, opacity=0.8] coordinates {(-150,30)(-140,50)(-130,80)(-120,110)(-110,150)(-100,200)(-95,180)(-90,160)(-80,110)(-70,60)(-60,45)(-50,35)(-40,30)(-30,28)(-20,25)(-15,28)(-10,25)(-5,30)(0,27)};
\addplot[cEst, line width=2.3pt, opacity=0.8] coordinates {(-160,4)(-155,6)(-150,7)(-145,6)(-140,4)(-135,3.5)(-100,3.5)(-95,6)(-90,7)(-85,8)(-80,7)(-76,3.8)(-72,8)(-70,10)(-65,11)(-60,12)(-50,16)(-40,20)(-30,25)(-20,30)(-10,30)(0,60)};
\addplot[cInd, line width=2.3pt, opacity=0.8] coordinates {(-150,6)(-140,8)(-130,12)(-120,16)(-110,22)(-100,30)(-90,40)(-80,48)(-70,55)(-60,60)(-50,68)(-40,65)(-30,60)(-20,55)(-10,45)(0,35)};
\addplot[cBra, line width=2.3pt, opacity=0.85] coordinates {(-160,85)(-155,75)(-150,110)(-140,130)(-130,150)(-120,175)(-110,180)(-100,210)(-90,205)(-80,205)(-70,200)(-60,180)(-50,140)(-40,130)(-30,110)(-20,110)(-10,100)(0,110)};
\addplot[cBlr, line width=2.3pt, opacity=0.8] coordinates {(-160,100)(-150,95)(-140,90)(-130,70)(-120,45)(-110,28)(-100,20)(-90,17)(-80,14)(-70,11)(-60,13)(-50,17)(-40,23)(-30,30)(-20,45)(-10,60)(0,80)};
\addplot[cRus, line width=2.5pt, opacity=0.7] coordinates {(-160,62)(-150,58)(-140,60)(-130,55)(-120,48)(-110,46)(-100,42)(-90,38)(-80,35)(-70,33)(-60,33)(-50,36)(-40,45)(-30,60)(-20,80)(-10,100)(0,115)};
\addplot[cSwe, line width=2.3pt, opacity=0.85] coordinates {(-160,50)(-155,55)(-150,100)(-140,100)(-130,110)(-125,115)(-120,95)(-115,80)(-110,60)(-105,40)(-100,30)(-90,22)(-80,20)(-70,18)(-60,20)(-50,22)(-40,30)(-30,40)(-20,60)(-10,80)(0,140)};
\addplot[cUkr, line width=2.3pt, opacity=0.8] coordinates {(-160,9)(-150,11)(-140,15)(-130,19)(-125,22)(-120,21)(-110,19)(-100,20)(-90,25)(-80,30)(-70,40)(-60,50)(-50,55)(-40,70)(-30,90)(-20,110)(-10,140)(0,180)};
\addplot[cGer, line width=2.3pt, opacity=0.8] coordinates {(-160,9)(-150,7)(-140,5)(-130,5)(-120,4.5)(-110,4)(-100,4.5)(-90,5.5)(-80,7)(-70,12)(-60,15)(-50,17)(-40,20)(-30,25)(-20,45)(-10,100)(0,170)};
\addplot[cUSA, line width=2.3pt, opacity=0.8] coordinates {(-160,70)(-155,65)(-150,65)(-145,68)(-140,70)(-135,80)(-130,95)(-125,115)(-120,140)(-115,170)(-110,190)(-105,205)(-100,210)(-95,205)(-90,200)(-85,185)(-80,170)(-75,160)(-70,150)(-65,140)(-60,130)(-55,115)(-50,110)(-45,120)(-40,125)(-35,130)(-30,140)(-25,145)(-20,150)(-15,165)(-10,180)(-5,210)(0,250)};
\addplot[cAut, line width=2.3pt, opacity=0.8] coordinates {(-160,4.5)(-150,5)(-140,6)(-130,5)(-120,8)(-110,6)(-100,7)(-90,12)(-80,17)(-70,25)(-60,35)(-50,50)(-40,70)(-30,80)(-20,110)(-10,220)(0,450)};
\addplot[cEur, line width=2.3pt, opacity=0.85] coordinates {(-160,14)(-150,14)(-140,13)(-130,13)(-120,12)(-110,11)(-100,14)(-90,20)(-80,26)(-70,30)(-60,37)(-50,50)(-40,60)(-30,80)(-20,120)(-10,230)(0,380)};
\addplot[cIta, line width=2.3pt, opacity=0.85] coordinates {(-160,7)(-155,6)(-150,5)(-145,4.5)(-140,4.2)(-135,4)(-130,3.5)(-100,3.5)(-95,4.5)(-90,6)(-85,7)(-80,8)(-75,10)(-70,12)(-65,15)(-60,18)(-55,20)(-50,23)(-45,26)(-40,30)(-35,40)(-30,55)(-25,75)(-20,100)(-15,150)(-10,210)(-5,300)(0,420)};
\addplot[cUK, line width=2.3pt, opacity=0.85] coordinates {(-160,37)(-155,36)(-150,30)(-145,27)(-140,25)(-135,22)(-130,20)(-125,18)(-120,15)(-115,12)(-110,10)(-105,10.5)(-100,11)(-95,12)(-90,13)(-85,14)(-80,15)(-75,16)(-70,17)(-65,19)(-60,22)(-55,28)(-50,38)(-45,50)(-40,60)(-35,80)(-30,120)(-25,180)(-20,250)(-18,265)(-15,200)(-10,250)(-5,300)(0,340)};
\addplot[cSvk, line width=2.3pt, opacity=0.85] coordinates {(-100,4)(-95,4.5)(-90,5)(-85,5.8)(-80,6.5)(-75,8)(-70,10)(-65,14)(-60,20)(-55,27)(-50,35)(-45,42)(-40,50)(-35,62)(-30,80)(-25,120)(-20,180)(-15,250)(-10,320)(-5,380)(0,460)};
\addplot[cSui, line width=2.3pt, opacity=0.85] coordinates {(-160,7)(-150,6)(-140,5.5)(-130,5.2)(-120,6)(-110,8)(-100,10)(-90,13)(-80,16)(-75,17)(-70,22)(-60,28)(-50,33)(-40,45)(-30,60)(-25,80)(-20,110)(-15,180)(-10,330)(-7,480)(-3,520)(0,900)};
\addplot[cPol, line width=3.8pt, opacity=0.65] coordinates {(-160,11)(-155,10)(-150,9)(-145,11)(-140,12.5)(-135,11)(-130,9)(-125,8.5)(-120,8)(-115,7.5)(-110,7.5)(-105,8)(-100,9)(-95,10)(-90,11)(-85,14)(-80,17)(-75,19)(-70,19)(-65,19.5)(-60,19.5)(-55,17)(-50,12.5)(-45,14)(-40,20)(-35,30)(-30,45)(-25,70)(-20,110)(-15,190)(-10,280)(-5,360)(0,430)};
\addplot[cCze6, line width=2.3pt, opacity=0.9] coordinates {(-160,6.1)(-155,5)(-150,4.3)(-145,4.8)(-140,5.2)(-135,5.5)(-130,6.9)(-125,8.8)(-121,17)(-118,17.5)(-115,10.7)(-110,10)(-105,9.5)(-100,15)(-95,21)(-90,20)(-85,18)(-80,16)(-75,19.5)(-70,24)(-65,28)(-61,33)(-57,27.5)(-54,42)(-52,62)(-50,96)(-44,164)(-37,204)(-30,210)(-25,315)(-20,460)(-15,700)(-10,1000)(-6,1175)(-3,1250)(0,1140)};
\end{axis}
\node[font=\fontsize{10}{11.5}\selectfont\bfseries, align=center, fill=white, inner sep=1pt, text=black!85] at (169pt,-1925pt) {Średnia krocząca nowych wykryć na milion mieszkańców\\(obliczana na podstawie siedmiu dni z danymi)};

%================ PANEL 7 =================
\begin{axis}[panel, at={(19pt,-2633pt)}, width=313pt, height=343pt,
 xmin=-70, xmax=0, ymode=log, ymin=4, ymax=2500,
 xtick={-70,-60,...,0}, xticklabels={-70,-60,-50,-40,-30,-20,-10,0},
 xmajorgrids, xticklabel style={font=\fontsize{7.5}{8}\selectfont},
 ytick={4,8,12,16,20,40,60,80,100,200,300,400,500,1000,1500,2000,2500},
 yticklabels={4,8,12,16,20,40,60,80,100,200,300,400,500,1000,1500,2000,2500},
 ymajorgrids, yticklabel pos=right, yticklabel style={anchor=center, xshift=-3pt, font=\fontsize{7.5}{8}\selectfont},
 extra y ticks={4,20,100,500,2500}, extra y tick labels={}, extra y tick style={grid=major, major grid style={draw=black!40}},
]
\addplot[cRSA, line width=1.3pt] coordinates {(-70,60)(-68,45)(-66,30)(-64,38)(-62,28)(-60,22)(-58,25)(-56,20)(-54,22)(-52,25)(-50,30)(-48,22)(-46,25)(-44,28)(-42,24)(-40,22)(-38,30)(-36,28)(-34,22)(-32,25)(-30,28)(-28,30)(-26,20)(-24,20)(-22,35)(-20,37)(-18,20)(-16,23)(-14,28)(-12,28)(-10,36)(-8,34)(-6,28)(-4,20)(-2,30)(0,30)};
\addplot[cEst, line width=1.3pt] coordinates {(-70,14)(-68,8)(-67,7.5)(-65,12)(-63,13)(-61,8.5)(-60,8.3)(-58,14)(-56,16)(-54,18)(-52,17)(-50,18)(-48,16)(-46,15)(-44,22)(-42,25)(-40,28)(-38,30)(-36,32)(-34,30)(-32,22)(-30,30)(-28,40)(-25,21)(-23,35)(-21,40)(-19,22)(-17,15)(-15,28)(-13,17)(-11,20)(-9,35)(-7,40)(-5,30)(-3,28)(-1,70)(0,80)};
\addplot[cInd, line width=1.3pt] coordinates {(-70,55)(-67,52)(-64,56)(-61,57)(-58,60)(-55,62)(-52,65)(-49,68)(-46,66)(-43,64)(-40,62)(-37,56)(-34,50)(-31,45)(-28,44)(-25,47)(-22,45)(-19,45)(-16,43)(-13,42)(-10,38)(-7,38)(-4,34)(-2,30)(0,34)};
\addplot[cBra, line width=1.3pt] coordinates {(-70,200)(-68,150)(-67,125)(-65,240)(-63,210)(-61,150)(-60,140)(-58,210)(-56.5,220)(-55,150)(-53,78)(-51,125)(-49.5,190)(-48,190)(-47,90)(-45.5,150)(-44,125)(-42.5,190)(-41,160)(-40,105)(-38,125)(-36,180)(-35,185)(-34,125)(-32.5,125)(-31,180)(-29.5,125)(-28,125)(-26,180)(-24,150)(-22,120)(-20,180)(-18,62)(-16,175)(-14,140)(-12,190)(-10,190)(-8,170)(-6,180)(-4,100)(-2,140)(0,110)};
\addplot[cBlr, line width=1.3pt] coordinates {(-70,18)(-65,18.5)(-60,18)(-55,19)(-50,20)(-45,20)(-40,22)(-35,26)(-30,30)(-25,36)(-20,42)(-15,50)(-10,62)(-5,75)(-2,85)(0,95)};
\addplot[cRus, line width=1.3pt] coordinates {(-70,34)(-60,35)(-50,38)(-45,40)(-40,42)(-35,47)(-30,55)(-25,64)(-20,77)(-15,88)(-10,100)(-5,107)(-2,110)(0,118)};
\addplot[cSwe, line width=1.3pt] coordinates {(-70,18)(-67,22)(-64,19)(-61,25)(-58,20)(-55,28)(-52,25)(-49,30)(-46,28)(-43,35)(-40,32)(-37,40)(-34,45)(-31,38)(-28,50)(-25,55)(-22,60)(-19,70)(-16,80)(-13,90)(-10,110)(-7,120)(-4,150)(-2,170)(0,210)};
\addplot[cUkr, line width=1.3pt] coordinates {(-70,50)(-67,45)(-64,52)(-61,48)(-58,60)(-55,55)(-52,65)(-49,60)(-46,75)(-43,70)(-40,65)(-37,80)(-34,85)(-31,70)(-28,110)(-25,100)(-22,120)(-19,115)(-16,130)(-13,125)(-10,140)(-7,150)(-4,145)(-2,165)(0,185)};
\addplot[cGer, line width=1.3pt] coordinates {(-70,15)(-68,12)(-66,12)(-64,15)(-62,11)(-60,10)(-58,15)(-56,12)(-54,18)(-52,17)(-50,18)(-48,13)(-46,18)(-44,20)(-42,25)(-40,20)(-38,22)(-36,24)(-34,22)(-32,19)(-30,22)(-28,25)(-26,20)(-24,30)(-22,42)(-20,45)(-18,40)(-16,60)(-14,45)(-12,60)(-10,80)(-8,100)(-6,130)(-4,140)(-2,170)(0,200)};
\addplot[cUSA, line width=1.3pt] coordinates {(-70,150)(-67,118)(-64,133)(-61,120)(-58,128)(-55.6,131)(-52.6,85)(-50,105)(-46,110)(-43,125)(-39,145)(-35.5,137)(-32.5,120)(-29.6,150)(-25.8,145)(-22,170)(-19,160)(-15.4,190)(-11,180)(-7.2,240)(-3.5,230)(0,290)};
\addplot[cAut, line width=1.3pt] coordinates {(-70,25)(-67,28)(-64,35)(-61,30)(-58,38)(-55,45)(-52,55)(-49,50)(-46,60)(-43,85)(-40,70)(-37,80)(-34,90)(-31,75)(-28,95)(-25,110)(-22,90)(-19,120)(-16,140)(-13,180)(-10,230)(-7,300)(-4,380)(-2,430)(0,480)};
\addplot[cEur, line width=1.3pt] coordinates {(-70,38)(-67,36)(-64,42)(-61,40)(-58,50)(-55,48)(-52,55)(-49,52)(-46,60)(-43,62)(-40,65)(-37,72)(-34,70)(-31,80)(-28,90)(-25,100)(-22,110)(-19,120)(-16,150)(-13,170)(-10,220)(-7,260)(-4,330)(-2,380)(0,400)};
\addplot[cIta, line width=1.3pt] coordinates {(-70,12)(-67,13)(-64,14)(-61,15)(-58,17)(-55,18)(-52,20)(-49,22)(-46,23)(-43,24)(-40,28)(-37,30)(-34,36)(-31,42)(-28,48)(-25,58)(-22,70)(-19,90)(-16,110)(-13,140)(-10,190)(-7,240)(-4,300)(-2,340)(0,420)};
\addplot[cUK, line width=1.3pt] coordinates {(-70,17)(-66.8,15.6)(-63.1,20)(-60.1,23)(-57.1,26)(-54.1,38)(-51.9,41)(-48.9,44)(-46,59)(-43,62)(-39.2,70)(-35.5,97)(-32.5,110)(-29.6,141)(-26.6,250)(-24.4,320)(-22.9,230)(-20.6,210)(-17.7,220)(-14.7,265)(-11,280)(-7.2,320)(-3.5,340)(0,350)};
\addplot[cSvk, line width=1.3pt] coordinates {(-70,18)(-68.3,13)(-66.8,8.3)(-64.6,15)(-63.1,19)(-60.1,9)(-57.1,18)(-54.9,28)(-52.7,13)(-50.4,23)(-47.4,20)(-43.7,43)(-41.5,46)(-39.2,24)(-37,59)(-34.8,110)(-31.8,60)(-29.6,121)(-28.1,125)(-25.8,206)(-22.9,110)(-21.4,265)(-19.1,206)(-16.9,180)(-14.7,350)(-12.4,360)(-11,190)(-8.7,363)(-6.1,528)(-5,300)(-2.8,420)(0,450)};
\addplot[cSui, line width=1.3pt] coordinates {(-70,35)(-67,30)(-64,45)(-61,40)(-58,55)(-55,45)(-52,60)(-49,50)(-46,55)(-43,65)(-40,60)(-37,70)(-34,60)(-31,70)(-28,80)(-25,120)(-22,200)(-19,300)(-16,338)(-12,338)(-9,700)(-4.3,700)(0,1000)};
\addplot[cPol, line width=2.5pt, opacity=0.85] coordinates {(-70,22)(-66.8,17)(-63.8,22)(-60.1,15.6)(-57.1,17)(-54.1,11.5)(-51.9,10.3)(-48.9,15.6)(-46.7,13.3)(-44.5,18)(-42.2,24.5)(-39.2,22)(-37,27.6)(-34,35.5)(-31.8,33)(-29.6,59)(-26.6,55)(-23.6,93)(-20.6,133)(-18.4,125)(-15.4,206)(-12.4,228)(-9.5,320)(-7.2,340)(-4.3,320)(-2,395)(0,530)};
\addplot[cCze, line width=1.3pt] coordinates {(-70,31)(-67.5,22)(-65,28)(-63,35)(-61,33)(-60,28)(-57,64)(-55,55)(-53.4,44)(-51,80)(-48.2,130)(-46,105)(-44.5,110)(-42.2,220)(-40,180)(-38.5,150)(-35.5,270)(-33.5,200)(-32.5,132)(-30,230)(-28,340)(-26,240)(-23.6,330)(-21.4,614)(-18.8,436)(-16.5,480)(-14.7,927)(-11.7,775)(-9.5,1100)(-7.2,1350)(-4.3,970)(-2,1250)(0,1200)};
\end{axis}
\node[font=\fontsize{10}{11.5}\selectfont\bfseries, align=center, fill=white, inner sep=1pt, text=black!85] at (169pt,-2305pt) {Średnia krocząca nowych wykryć na milion mieszkańców\\(obliczana na podstawie trzech dni z danymi)};

% country labels panels 6 and 7
\foreach \dy in {0,380} {
\node[anchor=west, font=\cf, text=cCze6] at (337pt,{-1941pt-\dy pt}) {Czechy};
\node[anchor=west, font=\cf, text=cSui] at (337pt,{-1980pt-\dy pt}) {Szwajcaria};
\node[anchor=west, font=\cf, text=cSvk] at (337pt,{-1996pt-\dy pt}) {Słowacja};
\node[anchor=west, font=\cf, text=cUK] at (337pt,{-2003pt-\dy pt}) {UK};
\node[anchor=west, font=\cf, text=cPolL] at (337pt,{-2011pt-\dy pt}) {Polska};
\node[anchor=west, font=\cf, text=cIta] at (337pt,{-2019pt-\dy pt}) {Włochy};
\node[anchor=west, font=\cf, text=cEur!85!black] at (337pt,{-2027pt-\dy pt}) {Europa};
\node[anchor=west, font=\cf, text=cAut] at (337pt,{-2035pt-\dy pt}) {Austria};
\node[anchor=west, font=\cf, text=cUSA] at (337pt,{-2042pt-\dy pt}) {USA};
\node[anchor=west, font=\cf, text=cGer] at (337pt,{-2051pt-\dy pt}) {Niemcy};
\node[anchor=west, font=\cf, text=cUkr] at (337pt,{-2058pt-\dy pt}) {Ukraina};
\node[anchor=west, font=\cf, text=cSwe] at (337pt,{-2066pt-\dy pt}) {Szwecja};
\node[anchor=west, font=\cf, text=cRus] at (337pt,{-2074pt-\dy pt}) {Rosja};
\node[anchor=west, font=\cf, text=cBlr] at (337pt,{-2090pt-\dy pt}) {Białoruś};
\node[anchor=west, font=\cf, text=cBra] at (337pt,{-2098pt-\dy pt}) {Brazylia};
\node[anchor=west, font=\cf, text=cInd] at (337pt,{-2129pt-\dy pt}) {Indie};
\node[anchor=west, font=\cf, text=cEst] at (337pt,{-2145pt-\dy pt}) {Estonia};
\node[anchor=west, font=\cf, text=cRSA] at (337pt,{-2161pt-\dy pt}) {RPA};
}

%================ PANEL 8 =================
\begin{axis}[panel, at={(19pt,-3012pt)}, width=351pt, height=342pt,
 xmin=0, xmax=49, ymode=log, ymin=2, ymax=50,
 xtick={0,7,...,49}, xticklabels={09-27,10-04,10-11,10-18,10-25,11-01,11-08,11-15},
 minor x tick num=6, xmajorgrids, xminorgrids,
 ytick={2,4,6,8,10,20,30,40,50}, yticklabels={2,4,6,8,10,20,30,40,50},
 minor ytick={3,5,7,9,15,25,35,45}, ymajorgrids, yminorgrids,
 yticklabel pos=right, yticklabel style={anchor=center, xshift=14pt},
 extra y ticks={2,10,50}, extra y tick labels={}, extra y tick style={grid=major, major grid style={draw=black!40}},
 every axis plot/.append style={line width=1pt, mark=*, mark size=0.9pt},
]
\addplot[cBel] coordinates {(0,6.4)(5,7.8)(10,10)(14,13)(18,17)(21,20)(25,24)(28,27)(32,32)(35,36)};
\addplot[cNed] coordinates {(0,9.6)(7,11)(14,13)(21,15.5)(28,18)(35,20.4)};
\addplot[cFra] coordinates {(0,8.0)(7,9.3)(14,10.8)(21,13.4)(28,16.4)(35,20.4)};
\addplot[cLux] coordinates {(0,13.3)(7,14.2)(14,15.5)(17,16.3)(21,17.5)(24,19)(28,22)(31,23.5)(35,28.5)};
\addplot[cBra] coordinates {(0,22)(7,23)(14,24)(21,24.8)(28,25.6)(35,26.1)};
\addplot[cUSA!80!black] coordinates {(0,22.1)(7,23)(14,24)(21,25.2)(28,26.5)(35,28)};
\addplot[cEsp] coordinates {(0,15.8)(3,16)(5,16.5)(7,17.5)(10,18.5)(14,19.3)(17,20)(18,21)(21,22)(24,23)(28,24.5)(31,25.5)(35,26.1)};
\addplot[cSui!80!black] coordinates {(0,6.1)(7,6.6)(14,7.8)(21,10.2)(28,13.2)(34,18)};
\addplot[cRSA] coordinates {(0,11.3)(7,11.5)(14,11.7)(21,11.9)(28,12.0)(35,12.2)};
\addplot[cSwe] coordinates {(0,8.9)(7,9.2)(14,9.6)(21,10.4)(28,11.2)(35,12.4)};
\addplot[cIrl] coordinates {(0,7.0)(7,7.9)(14,9.0)(21,10.3)(28,11.5)(35,12.4)};
\addplot[cUK] coordinates {(0,6.6)(7,7.4)(8,8.0)(14,9.0)(21,10.8)(28,12.8)(35,15)};
\addplot[cEur!85!black] coordinates {(0,6.1)(7,6.9)(14,8.0)(21,9.6)(28,11.6)(35,14)};
\addplot[cAut] coordinates {(0,4.8)(7,5.3)(14,6.1)(21,7.3)(28,9.0)(35,11.8)};
\addplot[cIta] coordinates {(0,5.1)(7,5.3)(14,5.9)(21,6.9)(28,8.6)(35,11.1)};
\addplot[cRus] coordinates {(0,7.9)(7,8.3)(14,8.9)(21,9.6)(28,10.4)(35,11.3)};
\addplot[cBlr] coordinates {(0,8.3)(7,8.6)(14,8.9)(21,9.4)(28,9.9)(35,10.3)};
\addplot[cUkr] coordinates {(0,4.5)(7,5.0)(14,5.5)(21,6.3)(28,7.4)(35,8.8)};
\addplot[cGer!85!black] coordinates {(0,3.4)(7,3.5)(14,3.8)(21,4.3)(28,5.3)(35,6.4)};
\addplot[cNor] coordinates {(0,2.5)(7,2.6)(14,2.7)(21,2.85)(28,3.1)(35,3.7)};
\addplot[cSvk] coordinates {(5,2.0)(7,2.3)(8,2.5)(10,2.65)(12,3.1)(14,3.5)(16,3.7)(18,4.3)(20,5.0)(21,5.3)(23,5.6)(25,6.3)(27,7.5)(28,7.9)(30,8.3)(32,9.0)(35,10.6)};
\addplot[cPol] coordinates {(0,2.3)(3,2.4)(5,2.55)(7,2.7)(10,3.0)(12,3.2)(14,3.5)(16,3.9)(18,4.3)(20,4.7)(22,5.3)(24,6.0)(26,6.6)(28,7.1)(30,8.0)(32,8.9)(35,9.6)};
\addplot[cCze] coordinates {(0,5.9)(3,6.3)(7,7.5)(10,8.8)(14,10.9)(17,14)(21,16.6)(24,19.5)(28,23.3)(31,26)(35,30.8)};
\end{axis}
\node[font=\tf, align=center, text=black!85] at (83pt,-2681.5pt) {Wykrycia na tysiąc ludzi\\skala logarytmiczna};
\node[anchor=west, font=\ef, text=cBel] at (273pt,-2705pt) {Belgia};
\node[anchor=west, font=\ef, text=cCze] at (273pt,-2721pt) {Czechy};
\node[anchor=west, font=\ef] at (273pt,-2731pt) {\textcolor{cLux}{Luksemburg,} \textcolor{cUSA}{USA}};
\node[anchor=west, font=\ef] at (273pt,-2739pt) {\textcolor{cEsp}{Hiszpania,} \textcolor{cBra}{Brazylia}};
\node[anchor=west, font=\ef] at (273pt,-2762pt) {\textcolor{cNed}{Holandia,} \textcolor{cFra}{Francja}};
\node[anchor=west, font=\ef, text=cSui!80!black] at (273pt,-2772pt) {Szwajcaria};
\node[anchor=west, font=\ef, text=cUK] at (273pt,-2797pt) {UK};
\node[anchor=west, font=\ef] at (273pt,-2807pt) {\textcolor{cEur!85!black}{Europa,} \textcolor{cAut}{Austria}};
\node[anchor=west, font=\ef] at (273pt,-2817pt) {\textcolor{cSwe}{Szwecja,} \textcolor{cIrl}{Irlandia,} \textcolor{cRSA}{RPA}};
\node[anchor=west, font=\ef] at (273pt,-2825pt) {\textcolor{cIta}{Włochy,} \textcolor{cSvk}{Słowacja}};
\node[anchor=west, font=\ef] at (273pt,-2833pt) {\textcolor{cRus}{Rosja,} \textcolor{cBlr}{Białoruś}};
\node[anchor=west, font=\ef, text=cPol] at (273pt,-2846pt) {Polska};
\node[anchor=west, font=\ef, text=cUkr] at (273pt,-2854pt) {Ukraina};
\node[anchor=west, font=\ef, text=cGer] at (273pt,-2888pt) {Niemcy};
\node[anchor=west, font=\ef, text=cNor] at (273pt,-2945pt) {Norwegia};

%================ PANEL 9 =================
\begin{axis}[panel, at={(19pt,-3392pt)}, width=351pt, height=342pt,
 xmin=0, xmax=49, ymode=log, ymin=5, ymax=640,
 xtick={0,7,...,49}, xticklabels={09-27,10-04,10-11,10-18,10-25,11-01,11-08,11-15},
 minor x tick num=6, xmajorgrids, xminorgrids,
 ytick={5,10,20,40,80,160,320,640}, yticklabels={5,10,20,40,80,160,320,640},
 minor ytick={6,7,8,9,12,14,16,18,25,30,35,50,60,70,100,120,140,200,240,280,400,480,560}, ymajorgrids, yminorgrids,
 yticklabel pos=right, yticklabel style={anchor=center, xshift=12pt},
 extra y ticks={20,80,160}, extra y tick labels={}, extra y tick style={grid=major, major grid style={draw=black!35}},
]
\addplot[cCze, line width=0.5pt, densely dotted] coordinates {(35.04,127)(41.1,157)};
\addplot[cSvk, line width=0.5pt, densely dotted] coordinates {(35.04,91)(45.98,160)};
\addplot[cPol, line width=0.5pt, densely dotted] coordinates {(35.04,73)(45.98,160)};
\addplot[cHun, line width=0.5pt, densely dotted] coordinates {(35.04,55)(45.98,110)};
\addplot[cUkr, line width=0.5pt, densely dotted] coordinates {(35.04,44.2)(45.98,69)};
\addplot[cGer, line width=0.5pt, densely dotted] coordinates {(35.04,29.7)(45.98,66)};
\addplot[cBlr, line width=0.5pt, densely dotted] coordinates {(35.04,22.6)(45.98,38)};
\addplot[cNor, line width=0.5pt, densely dotted] coordinates {(35.04,12.4)(45.98,34)};
\addplot[cNor, line width=1.6pt, mark=*, mark size=1.2pt] coordinates {(20.2,5)(21.08,5.2)(22.94,5.5)(25.3,6.0)(27.83,7.5)(29.92,8.5)(32.0,10)(33.6,11.2)(35.04,12.4)};
\addplot[cBlr, line width=1.6pt, mark=*, mark size=1.2pt] coordinates {(12.0,5)(12.94,5.5)(15.03,6.6)(16.89,7.6)(18.99,8.9)(21.08,10.0)(22.94,11.0)(25.3,12.5)(27.83,14.2)(29.92,16.5)(32.0,18.8)(35.04,22.6)};
\addplot[cGer, line width=1.6pt, mark=*, mark size=1.2pt] coordinates {(15.03,5)(15.96,5.6)(16.89,5.9)(18.3,6.7)(19.92,8.6)(21.08,9.2)(22.9,10.8)(25.3,13.5)(27.83,17.3)(29.9,20.3)(31.8,24)(33.2,26)(35.04,29.7)};
\addplot[cHun, line width=1.6pt, mark=*, mark size=1.2pt] coordinates {(7.6,7.7)(9.0,10)(11.3,13.3)(13.6,16.9)(16.0,20.3)(18.3,23.4)(20.6,25.7)(22.9,28.3)(25.3,32.6)(27.6,37.6)(29.9,42.3)(32.2,47.6)(35.04,55)};
\addplot[cUkr, line width=1.6pt, mark=*, mark size=1.2pt] coordinates {(5.26,5)(6.89,6.2)(8.98,9.1)(11.3,12.7)(13.6,16.9)(15.96,20.4)(18.3,22.9)(20.6,24.5)(22.9,27)(25.3,30)(27.83,34)(29.9,37)(32.2,40.4)(35.04,44.2)};
\addplot[cPol, line width=1.6pt, mark=*, mark size=1.2pt] coordinates {(10.1,5)(10.84,5.7)(12.0,6.9)(12.94,8.1)(13.87,9.6)(15.03,10.6)(15.96,11.8)(16.89,13)(18.05,15)(18.99,16.8)(19.92,19)(21.08,21.9)(22.01,24)(22.94,25.8)(23.87,28)(25.03,31.2)(25.97,33.9)(26.9,37.6)(27.83,41.2)(29.0,44.2)(29.92,47.5)(30.85,51.2)(32.0,56.2)(32.95,60.4)(34.1,67)(35.04,73)};
\addplot[cSvk, line width=1.6pt, mark=*, mark size=1.2pt] coordinates {(5.26,5)(5.96,6.2)(7.82,8.5)(8.98,9.3)(9.91,10)(10.84,11.2)(12.0,13.0)(12.94,15.3)(13.87,19.0)(15.03,21.3)(15.96,21.7)(16.89,22.9)(17.8,26)(18.99,29.0)(19.92,32.7)(21.08,36.8)(22.01,39.4)(22.94,40.3)(23.87,42.4)(25.03,46.5)(25.97,50)(26.9,55)(27.83,58.9)(29.0,64.8)(29.92,68)(30.85,69.6)(32.0,74.8)(32.95,80)(34.1,86)(35.04,91)};
\addplot[cCze, line width=1.6pt, mark=*, mark size=1.2pt] coordinates {(5.26,5)(5.96,6.4)(6.89,8.1)(7.82,8.9)(8.98,10)(9.91,11.6)(10.84,14.3)(12.0,17.3)(12.94,20.3)(13.87,23.5)(15.03,25.3)(15.96,26.7)(16.89,29.7)(18.05,34.3)(18.99,38.5)(19.92,43.6)(21.08,48.2)(22.01,51.2)(22.94,54.9)(23.87,58.9)(25.03,66.3)(25.97,72.2)(26.9,80)(27.83,85.8)(29.0,91.1)(29.92,94.1)(30.85,100)(32.0,107)(32.95,114)(34.1,120)(35.04,127)};
\end{axis}
\node[font=\tf, align=center, text=black!85] at (112pt,-3068.5pt) {Wykrycia z ostatnich pięciu tygodni\\na 10 000 mieszkańców\\skala logarytmiczna};
\node[anchor=north west, font=\fontsize{7.2}{8.8}\selectfont\bfseries, align=left, text=black!80] at (20pt,-3086pt) {Krzywe regresji: wielomiany piątego stopnia.\\Wystarczająco szybko reagują na zmiany.};
\node[anchor=west, font=\cf, text=cCze] at (20pt,-3115pt) {Czechy};
\node[anchor=west, font=\cf, text=cSvk] at (20pt,-3188pt) {Słowacja};
\node[anchor=west, font=\cf, text=cPol] at (20pt,-3202pt) {Polska};
\node[anchor=west, font=\cf, text=cHun] at (20pt,-3226pt) {Węgry};
\node[anchor=west, font=\cf, text=cUkr] at (20pt,-3241pt) {Ukraina};
\node[anchor=west, font=\cf, text=cGer] at (20pt,-3261pt) {Niemcy};
\node[anchor=west, font=\cf, text=cBlr] at (20pt,-3289pt) {Białoruś};
\node[anchor=west, font=\cf, text=cNor] at (20pt,-3330pt) {Norwegia};
\end{tikzpicture}
\end{document}
